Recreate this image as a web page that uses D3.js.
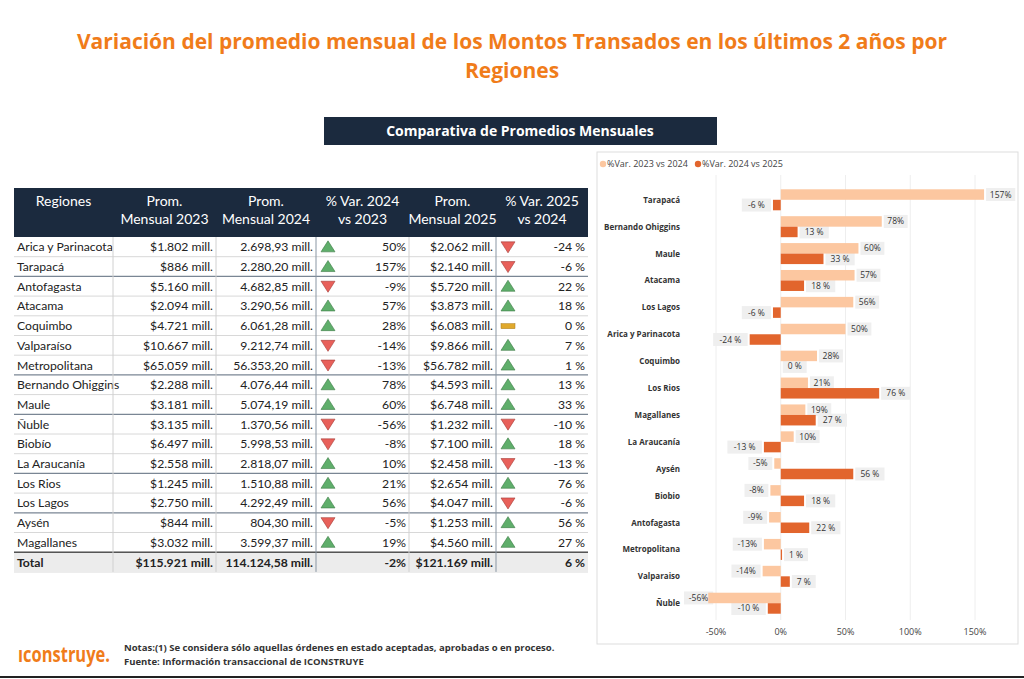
<!DOCTYPE html>
<html><head><meta charset="utf-8">
<script src="https://cdn.jsdelivr.net/npm/d3@7"></script>
<style>
body{margin:0;background:#fff;}
</style></head>
<body><svg id="main" width="1024" height="679" font-family="'Open Sans', sans-serif"></svg>
<script>
// data, table order
var regiones = ["Arica y Parinacota","Tarapacá","Antofagasta","Atacama","Coquimbo","Valparaíso","Metropolitana","Bernando Ohiggins","Maule","Ñuble","Biobío","La Araucanía","Los Rios","Los Lagos","Aysén","Magallanes"];
var chartNames = ["Arica y Parinacota","Tarapacá","Antofagasta","Atacama","Coquimbo","Valparaiso","Metropolitana","Bernando Ohiggins","Maule","Ñuble","Biobio","La Araucanía","Los Rios","Los Lagos","Aysén","Magallanes"];
var prom2023 = ["$1.802 mill.","$886 mill.","$5.160 mill.","$2.094 mill.","$4.721 mill.","$10.667 mill.","$65.059 mill.","$2.288 mill.","$3.181 mill.","$3.135 mill.","$6.497 mill.","$2.558 mill.","$1.245 mill.","$2.750 mill.","$844 mill.","$3.032 mill."];
var prom2024 = ["2.698,93 mill.","2.280,20 mill.","4.682,85 mill.","3.290,56 mill.","6.061,28 mill.","9.212,74 mill.","56.353,20 mill.","4.076,44 mill.","5.074,19 mill.","1.370,56 mill.","5.998,53 mill.","2.818,07 mill.","1.510,88 mill.","4.292,49 mill.","804,30 mill.","3.599,37 mill."];
var prom2025 = ["$2.062 mill.","$2.140 mill.","$5.720 mill.","$3.873 mill.","$6.083 mill.","$9.866 mill.","$56.782 mill.","$4.593 mill.","$6.748 mill.","$1.232 mill.","$7.100 mill.","$2.458 mill.","$2.654 mill.","$4.047 mill.","$1.253 mill.","$4.560 mill."];
var var2024 = [50,157,-9,57,28,-14,-13,78,60,-56,-8,10,21,56,-5,19];
var var2025 = [-24,-6,22,18,0,7,1,13,33,-10,18,-13,76,-6,56,27];
var total = ["Total","$115.921 mill.","114.124,58 mill.",-2,"$121.169 mill.",6];
var groupBreaks = [1,6,8,11,13]; // darker line after these rows
var xTicks = [-50,0,50,100,150];

var svg = d3.select("#main");
var orange = "#f07c1a";
var tf = "Lato, sans-serif";

// title
svg.append("text").attr("x",512).attr("y",49).attr("text-anchor","middle")
  .attr("fill",orange).attr("font-size",21).attr("font-weight","bold")
  .text("Variación del promedio mensual de los Montos Transados en los últimos 2 años por");
svg.append("text").attr("x",512).attr("y",78).attr("text-anchor","middle")
  .attr("fill",orange).attr("font-size",21).attr("font-weight","bold").text("Regiones");
svg.append("rect").attr("x",324).attr("y",117).attr("width",393).attr("height",28).attr("fill","#1b2a3e");
svg.append("text").attr("x",520).attr("y",136).attr("text-anchor","middle")
  .attr("fill","#fff").attr("font-size",14).attr("font-weight","bold").text("Comparativa de Promedios Mensuales");

// ---- table ----
var colX = [14,113,216,316,409,496,588];
var headers = [["Regiones"],["Prom.","Mensual 2023"],["Prom.","Mensual 2024"],["% Var. 2024","vs 2023"],["Prom.","Mensual 2025"],["% Var. 2025","vs 2024"]];
var tTop = 188, hH = 49, rowH = 19.7;
var tbl = svg.append("g").attr("font-family",tf);
tbl.append("rect").attr("x",colX[0]).attr("y",tTop).attr("width",colX[6]-colX[0]).attr("height",hH).attr("fill","#1b2a3e");
headers.forEach(function(h,i){
  h.forEach(function(t,j){
    tbl.append("text").attr("x",(colX[i]+colX[i+1])/2).attr("y",tTop+18+j*18)
      .attr("text-anchor","middle").attr("fill","#fff").attr("font-size",14).text(t);
  });
});
var rowY = d3.range(regiones.length).map(function(i){return tTop+hH+i*rowH;});
var totY = tTop+hH+regiones.length*rowH;
tbl.append("rect").attr("x",colX[0]).attr("y",totY).attr("width",colX[6]-colX[0]).attr("height",rowH+1).attr("fill","#ececec");

function arrow(g,x,yc,v){
  if(v>0){
    g.append("path").attr("d","M"+x+","+(yc+5)+"L"+(x+14)+","+(yc+5)+"L"+(x+7)+","+(yc-6)+"Z")
      .attr("fill","#5fae6b").attr("stroke","#3d7a45").attr("stroke-width",0.6);
  } else if(v<0){
    g.append("path").attr("d","M"+x+","+(yc-5)+"L"+(x+14)+","+(yc-5)+"L"+(x+7)+","+(yc+6)+"Z")
      .attr("fill","#e8605a").attr("stroke","#a33b36").attr("stroke-width",0.6);
  } else {
    g.append("rect").attr("x",x).attr("y",yc-2).attr("width",14).attr("height",5).attr("fill","#e0a92c").attr("stroke","#a87b1a").attr("stroke-width",0.5);
  }
}
function cell(g,xp,ty,txt,anchor){
  g.append("text").attr("x",xp).attr("y",ty).attr("text-anchor",anchor||"end").text(txt);
}
regiones.forEach(function(r,i){
  var yc = rowY[i]+rowH/2, ty = yc+4.5;
  var g = tbl.append("g").attr("font-size",12.2).attr("fill","#222");
  cell(g,colX[0]+3,ty,r,"start");
  cell(g,colX[2]-3,ty,prom2023[i]);
  cell(g,colX[3]-3,ty,prom2024[i]);
  arrow(g,colX[3]+5,yc,var2024[i]);
  cell(g,colX[4]-3,ty,var2024[i]+"%");
  cell(g,colX[5]-3,ty,prom2025[i]);
  arrow(g,colX[5]+5,yc,var2025[i]);
  cell(g,colX[6]-3,ty,var2025[i]+" %");
  var dark = groupBreaks.indexOf(i)>=0;
  tbl.append("line").attr("x1",colX[0]).attr("x2",colX[6]).attr("y1",rowY[i]+rowH).attr("y2",rowY[i]+rowH)
    .attr("stroke",dark?"#7a8694":"#d8d8d8").attr("stroke-width",dark?1.2:1);
});
tbl.append("line").attr("x1",colX[0]).attr("x2",colX[6]).attr("y1",totY).attr("y2",totY).attr("stroke","#555").attr("stroke-width",1.5);
var tg = tbl.append("g").attr("font-size",12.2).attr("font-weight","bold").attr("fill","#222");
var tty = totY+rowH/2+4.5;
cell(tg,colX[0]+3,tty,total[0],"start");
cell(tg,colX[2]-3,tty,total[1]);
cell(tg,colX[3]-3,tty,total[2]);
cell(tg,colX[4]-3,tty,total[3]+"%");
cell(tg,colX[5]-3,tty,total[4]);
cell(tg,colX[6]-3,tty,total[5]+" %");
[1,2,3,4,5].forEach(function(c){
  var dark = (c==3||c==5);
  tbl.append("line").attr("x1",colX[c]).attr("x2",colX[c]).attr("y1",tTop+hH).attr("y2",totY+rowH)
    .attr("stroke",dark?"#8a96a3":"#d0d0d0");
});

// ---- chart ----
var panel = svg.append("g");
panel.append("rect").attr("x",597).attr("y",152).attr("width",421).attr("height",492)
  .attr("fill","#fff").attr("stroke","#ddd").attr("stroke-width",1);
var lg = panel.append("g").attr("font-size",9).attr("fill","#444");
lg.append("circle").attr("cx",603).attr("cy",164).attr("r",3.2).attr("fill","#fcc7a0");
lg.append("text").attr("x",607).attr("y",167).text("%Var. 2023 vs 2024");
lg.append("circle").attr("cx",698).attr("cy",164).attr("r",3.2).attr("fill","#e2652d");
lg.append("text").attr("x",702).attr("y",167).text("%Var. 2024 vs 2025");

var idx = d3.range(regiones.length).sort(function(a,b){return var2024[b]-var2024[a];});
var x = d3.scaleLinear().domain([-50,150]).range([716,975]);
var y = d3.scaleBand().domain(idx).range([185,618]).paddingInner(0.0).paddingOuter(0.05);
xTicks.forEach(function(t){
  panel.append("line").attr("x1",x(t)).attr("x2",x(t)).attr("y1",175).attr("y2",620).attr("stroke","#eee");
  panel.append("text").attr("x",x(t)).attr("y",635).attr("text-anchor","middle").attr("font-size",9).attr("fill","#444").text(t+"%");
});
var bh = 10.5;
var labels = panel.append("g");
function lbl(xp,yc,txt,neg){
  var w = txt.length*5.3+8;
  var bx = neg ? Math.max(xp-w-2,684) : xp+2;
  labels.append("rect").attr("x",bx).attr("y",yc-6.5).attr("width",w).attr("height",13).attr("fill","#efefef");
  labels.append("text").attr("x",bx+w/2).attr("y",yc+3).attr("text-anchor","middle").attr("font-size",8.5).attr("fill","#333").text(txt);
}
idx.forEach(function(i){
  var yc = y(i)+y.bandwidth()/2;
  panel.append("text").attr("x",680).attr("y",yc+3).attr("text-anchor","end").attr("font-size",8)
    .attr("font-weight","bold").attr("fill","#333").text(chartNames[i]);
  var a = var2024[i], b = var2025[i];
  panel.append("rect").attr("x",x(Math.min(0,a))).attr("y",yc-bh).attr("width",Math.abs(x(a)-x(0))).attr("height",bh).attr("fill","#fcc7a0");
  panel.append("rect").attr("x",x(Math.min(0,b))).attr("y",yc).attr("width",Math.abs(x(b)-x(0))).attr("height",bh).attr("fill","#e2652d");
  lbl(x(a),yc-bh/2,a+"%",a<0);
  lbl(x(b),yc+bh/2,b+" %",b<0);
});

// footer
svg.append("text").attr("x",18).attr("y",662).attr("font-size",22).attr("font-weight","bold").attr("fill",orange)
  .attr("textLength",92).attr("lengthAdjust","spacingAndGlyphs").text("ıconstruye.");
svg.append("text").attr("x",124).attr("y",651).attr("font-size",9.5).attr("font-weight","bold").attr("fill","#333")
  .text("Notas:(1)  Se considera sólo aquellas órdenes en estado aceptadas, aprobadas o en proceso.");
svg.append("text").attr("x",124).attr("y",665).attr("font-size",9.5).attr("font-weight","bold").attr("fill","#333")
  .text("Fuente: Información transaccional de ICONSTRUYE");
svg.append("line").attr("x1",0).attr("x2",1024).attr("y1",677).attr("y2",677).attr("stroke","#222").attr("stroke-width",2);
</script></body></html>
